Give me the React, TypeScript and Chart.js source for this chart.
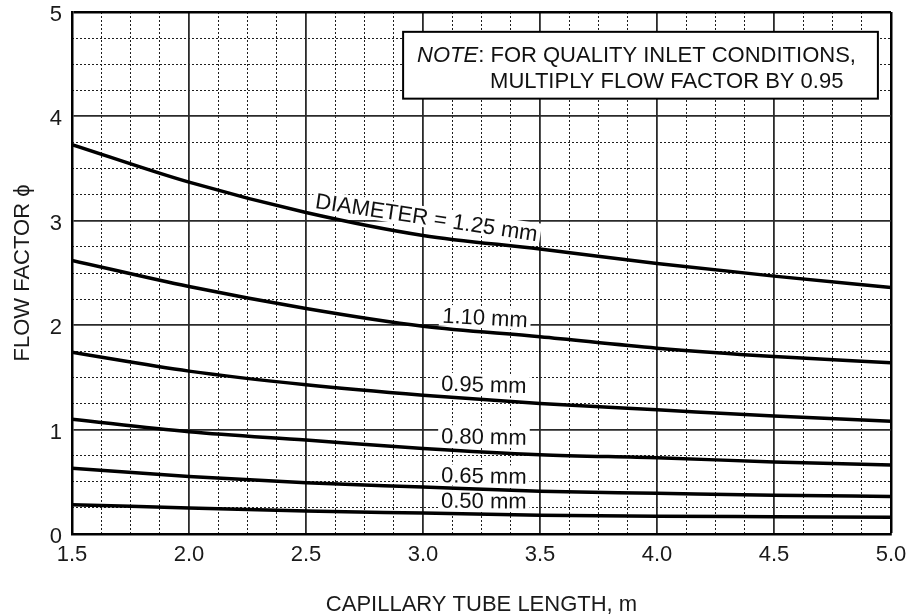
import React, { useEffect, useRef } from "react";
import { Chart, registerables } from "chart.js";

Chart.register(...registerables);

const FONT = '"Liberation Sans", Arial, Helvetica, sans-serif';

// capillary tube length (m)
const lengths = [1.5, 2.0, 2.5, 3.0, 3.5, 4.0, 4.5, 5.0];
// flow factor per diameter
const d125 = [3.73, 3.37, 3.08, 2.86, 2.73, 2.59, 2.47, 2.36];
const d110 = [2.62, 2.37, 2.16, 1.99, 1.89, 1.78, 1.7, 1.64];
const d095 = [1.74, 1.56, 1.43, 1.33, 1.25, 1.19, 1.13, 1.08];
const d080 = [1.1, 0.98, 0.9, 0.82, 0.76, 0.73, 0.69, 0.66];
const d065 = [0.63, 0.55, 0.49, 0.45, 0.41, 0.39, 0.37, 0.36];
const d050 = [0.28, 0.25, 0.22, 0.2, 0.18, 0.17, 0.165, 0.16];

const seriesNames = ["1.25 mm", "1.10 mm", "0.95 mm", "0.80 mm", "0.65 mm", "0.50 mm"];
const seriesValues = [d125, d110, d095, d080, d065, d050];

const xTicks = [1.5, 2.0, 2.5, 3.0, 3.5, 4.0, 4.5, 5.0];
const xTickLabels = ["1.5", "2.0", "2.5", "3.0", "3.5", "4.0", "4.5", "5.0"];
const yTicks = [0, 1, 2, 3, 4, 5];
const yTickLabels = ["0", "1", "2", "3", "4", "5"];
const xMinorStep = 0.125;
const yMinorStep = 0.25;

const curveLabels = ["DIAMETER = 1.25 mm", "1.10 mm", "0.95 mm", "0.80 mm", "0.65 mm", "0.50 mm"];
const curveLabelX = [3.015, 3.265, 3.26, 3.26, 3.26, 3.26];
const curveLabelY = [3.03, 2.07, 1.43, 0.93, 0.555, 0.316];
const curveLabelAngle = [8.5, 3, 1.5, 1, 1, 0.5];

const noteItalic = "NOTE";
const noteLine1 = ": FOR QUALITY INLET CONDITIONS,";
const noteLine2 = "MULTIPLY FLOW FACTOR BY 0.95";
const noteBox = { x0: 2.915, x1: 4.944, y0: 4.81, y1: 4.17 };

function range(min: number, max: number, step: number) {
  const out: number[] = [];
  const n = Math.round((max - min) / step);
  for (let i = 0; i <= n; i++) out.push(+(min + i * step).toFixed(4));
  return out;
}

const isMultiple = (v: number, step: number) => Math.abs(v / step - Math.round(v / step)) < 1e-6;

const annotations = {
  id: "annotations",
  beforeDatasetsDraw(chart: any) {
    const { ctx } = chart;
    const xs = chart.scales.x;
    const ys = chart.scales.y;
    curveLabels.forEach((t, i) => {
      const px = xs.getPixelForValue(curveLabelX[i]);
      const py = ys.getPixelForValue(curveLabelY[i]);
      ctx.save();
      ctx.translate(px, py);
      ctx.rotate((curveLabelAngle[i] * Math.PI) / 180);
      ctx.font = `22px ${FONT}`;
      const w = ctx.measureText(t).width;
      ctx.fillStyle = "#fff";
      ctx.fillRect(-w / 2 - 3, -11, w + 6, 21);
      ctx.fillStyle = "#111";
      ctx.textAlign = "center";
      ctx.textBaseline = "middle";
      ctx.fillText(t, 0, 1);
      ctx.restore();
    });
  },
  afterDatasetsDraw(chart: any) {
    const { ctx } = chart;
    const xs = chart.scales.x;
    const ys = chart.scales.y;
    const l = xs.getPixelForValue(noteBox.x0);
    const r = xs.getPixelForValue(noteBox.x1);
    const t = ys.getPixelForValue(noteBox.y0);
    const b = ys.getPixelForValue(noteBox.y1);
    ctx.save();
    ctx.fillStyle = "#fff";
    ctx.fillRect(l, t, r - l, b - t);
    ctx.strokeStyle = "#000";
    ctx.lineWidth = 2;
    ctx.strokeRect(l, t, r - l, b - t);
    ctx.fillStyle = "#111";
    ctx.textBaseline = "middle";
    ctx.textAlign = "left";
    ctx.font = `italic 22px ${FONT}`;
    const x1 = l + 14;
    const y1 = t + 24.5;
    ctx.fillText(noteItalic, x1, y1);
    const wi = ctx.measureText(noteItalic).width;
    ctx.font = `22px ${FONT}`;
    ctx.fillText(noteLine1, x1 + wi, y1);
    ctx.fillText(noteLine2, l + 87, t + 50);
    ctx.restore();
  },
};

export default function App() {
  const ref = useRef<HTMLCanvasElement | null>(null);
  useEffect(() => {
    if (!ref.current) return;
    const tickFont = { family: FONT, size: 22 };
    const chart = new Chart(ref.current, {
      type: "line",
      data: {
        datasets: seriesValues.map((vals, i) => ({
          label: seriesNames[i],
          data: lengths.map((x, j) => ({ x, y: vals[j] })),
          borderColor: "#000",
          borderWidth: 3.5,
          pointRadius: 0,
          fill: false,
          cubicInterpolationMode: "monotone" as const,
        })),
      },
      options: {
        animation: false,
        responsive: false,
        layout: { padding: { top: 12, right: 18, left: 0, bottom: 0 } },
        plugins: { legend: { display: false }, tooltip: { enabled: false } },
        scales: {
          xm: {
            type: "linear",
            position: "bottom",
            min: 1.5,
            max: 5,
            afterBuildTicks: (s: any) => {
              s.ticks = range(1.5, 5, xMinorStep).map((v) => ({ value: v }));
            },
            afterFit: (s: any) => {
              s.height = 0;
              s.paddingLeft = 0;
              s.paddingRight = 0;
            },
            ticks: { display: false },
            grid: {
              drawTicks: false,
              lineWidth: 1,
              color: (c: any) => (isMultiple(c.tick.value, 0.5) ? "rgba(0,0,0,0)" : "#1e1e1e"),
            },
            border: { display: false, dash: [2, 2] },
          },
          ym: {
            type: "linear",
            position: "left",
            min: 0,
            max: 5,
            afterBuildTicks: (s: any) => {
              s.ticks = range(0, 5, yMinorStep).map((v) => ({ value: v }));
            },
            afterFit: (s: any) => {
              s.width = 0;
              s.paddingTop = 0;
              s.paddingBottom = 0;
            },
            ticks: { display: false },
            grid: {
              drawTicks: false,
              lineWidth: 1,
              color: (c: any) => (isMultiple(c.tick.value, 1) ? "rgba(0,0,0,0)" : "#1e1e1e"),
            },
            border: { display: false, dash: [2, 2] },
          },
          x: {
            type: "linear",
            position: "bottom",
            min: 1.5,
            max: 5,
            afterBuildTicks: (s: any) => {
              s.ticks = xTicks.map((v) => ({ value: v }));
            },
            afterFit: (s: any) => {
              s.height = 82;
              s.paddingLeft = 0;
              s.paddingRight = 0;
            },
            ticks: {
              font: tickFont,
              color: "#1a1a1a",
              padding: 8,
              maxRotation: 0,
              autoSkip: false,
              callback: (v: any) => {
                const i = xTicks.findIndex((t) => Math.abs(t - v) < 1e-6);
                return i >= 0 ? xTickLabels[i] : "";
              },
            },
            grid: {
              drawTicks: false,
              color: (c: any) => (c.tick.value === 5 ? "#000" : "#2a2a2a"),
              lineWidth: (c: any) => (c.tick.value === 5 ? 2.5 : 1.8),
            },
            border: { color: "#000", width: 2.5 },
            title: {
              display: true,
              text: "CAPILLARY TUBE LENGTH, m",
              font: tickFont,
              color: "#1a1a1a",
              padding: { top: 0, bottom: -2 },
            },
          },
          y: {
            type: "linear",
            position: "left",
            min: 0,
            max: 5,
            afterBuildTicks: (s: any) => {
              s.ticks = yTicks.map((v) => ({ value: v }));
            },
            afterFit: (s: any) => {
              s.width = 72;
              s.paddingTop = 0;
              s.paddingBottom = 0;
            },
            ticks: {
              font: tickFont,
              color: "#1a1a1a",
              padding: 10,
              labelOffset: 3,
              autoSkip: false,
              callback: (v: any) => {
                const i = yTicks.findIndex((t) => Math.abs(t - v) < 1e-6);
                return i >= 0 ? yTickLabels[i] : "";
              },
            },
            grid: {
              drawTicks: false,
              color: (c: any) => (c.tick.value === 5 ? "#000" : "#2a2a2a"),
              lineWidth: (c: any) => (c.tick.value === 5 ? 2.5 : 1.8),
            },
            border: { color: "#000", width: 2.5 },
            title: {
              display: true,
              text: "FLOW FACTOR ϕ",
              font: tickFont,
              color: "#1a1a1a",
              padding: { top: 10, bottom: 0 },
            },
          },
        },
      } as any,
      plugins: [annotations],
    });
    return () => chart.destroy();
  }, []);
  return (
    <div style={{ position: "absolute", left: 0, top: 0, width: 909, height: 616, background: "#fff" }}>
      <canvas ref={ref} width={909} height={616} style={{ display: "block" }} />
    </div>
  );
}
